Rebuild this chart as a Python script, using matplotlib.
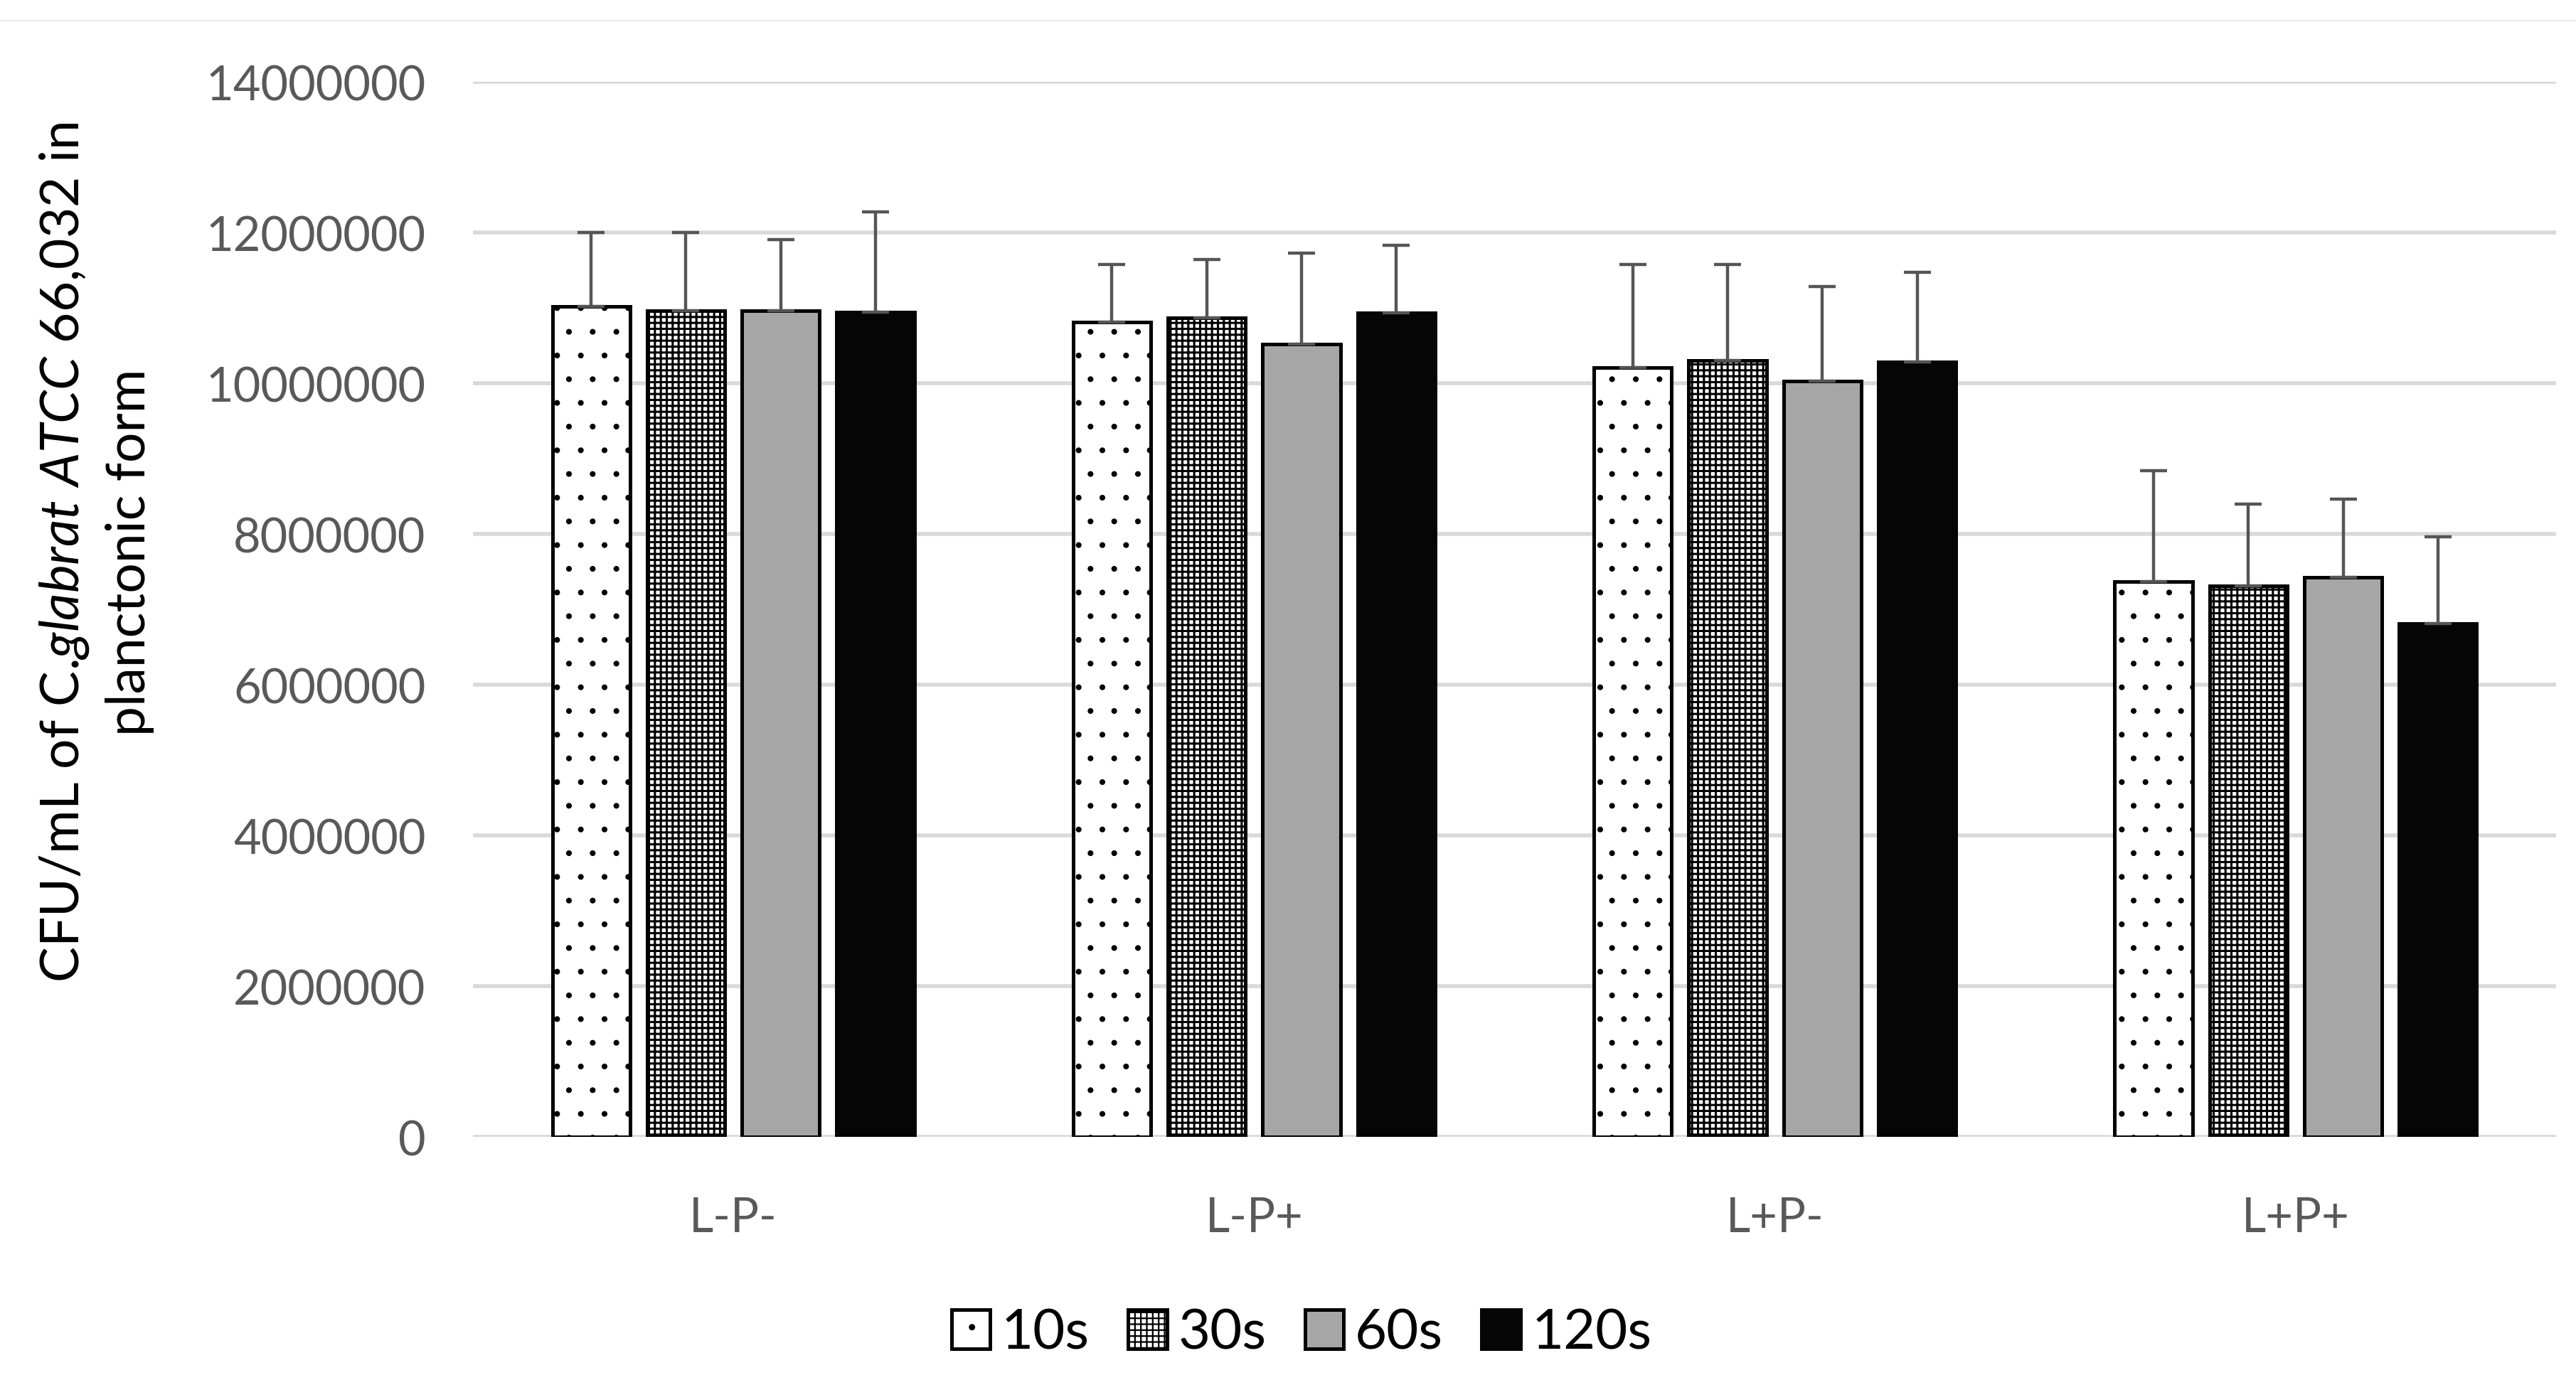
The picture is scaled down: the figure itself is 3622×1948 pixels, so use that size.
import matplotlib
matplotlib.use("Agg")
import matplotlib.pyplot as plt
import numpy as np
from matplotlib.lines import Line2D

# data
groups = ["L-P-", "L-P+", "L+P-", "L+P+"]
series = ["10s", "30s", "60s", "120s"]
means_10s = [11020000, 10810000, 10210000, 7370000]
means_30s = [10960000, 10870000, 10300000, 7310000]
means_60s = [10960000, 10520000, 10030000, 7420000]
means_120s = [10940000, 10930000, 10280000, 6810000]
err_10s = [980000, 770000, 1370000, 1470000]
err_30s = [1040000, 770000, 1280000, 1090000]
err_60s = [950000, 1210000, 1250000, 1040000]
err_120s = [1330000, 900000, 1190000, 1150000]
y_ticks = [0, 2000000, 4000000, 6000000, 8000000, 10000000, 12000000, 14000000]

means = [means_10s, means_30s, means_60s, means_120s]
errs = [err_10s, err_30s, err_60s, err_120s]

plt.rcParams['font.family'] = 'Lato'
plt.rcParams['mathtext.fontset'] = 'custom'
plt.rcParams['mathtext.rm'] = 'Lato'
plt.rcParams['mathtext.it'] = 'Lato:italic'
plt.rcParams['hatch.linewidth'] = 0.6

W, H, DPI = 3623, 1949, 200
fig = plt.figure(figsize=(W / DPI, H / DPI), dpi=DPI)
ax = fig.add_axes([665 / W, 1 - 1600 / H, (3594 - 665) / W, (1600 - 116) / H])

# bar styles per series
faces = ['white', 'white', '#A6A6A6', '#050505']
hatches = ['.', '++++', None, None]
hatch_lw = [0.5, 1.1, 0.6, 0.6]
edges = ['black', 'black', 'black', '#050505']

x = np.arange(len(groups))
width = 0.149
step = 0.182
for i, name in enumerate(series):
    pos = x + (i - 1.5) * step
    bars = ax.bar(pos, means[i], width, color=faces[i], edgecolor=edges[i],
                  hatch=hatches[i], linewidth=1.8, label=name, zorder=2)
    for b in bars:
        if hasattr(b, 'set_hatch_linewidth'):
            b.set_hatch_linewidth(hatch_lw[i])
    ax.errorbar(pos, means[i], yerr=[np.zeros(len(groups)), errs[i]],
                fmt='none', ecolor='#555555', elinewidth=1.6,
                capsize=6.7, capthick=1.6, zorder=3)

ax.set_xlim(-0.5, 3.5)
ax.set_ylim(0, 14000000)
ax.set_yticks(y_ticks)
ax.set_yticklabels([str(v) for v in y_ticks])
ax.set_xticks(x)
ax.set_xticklabels(groups)

ax.grid(axis='y', color='#D9D9D9', linewidth=2)
ax.set_axisbelow(True)
for s in ax.spines.values():
    s.set_visible(False)
ax.tick_params(axis='both', length=0, labelsize=24, labelcolor='#595959')
ax.tick_params(axis='y', pad=24)
ax.tick_params(axis='x', pad=30)

ax.set_ylabel("CFU/mL of C.$\\mathit{glabrat\\ ATCC\\ 66{,}032}$ in\nplanctonic form",
              fontsize=27, color='black', linespacing=1.35)
ax.yaxis.set_label_coords(-0.153, 0.555)

leg = fig.legend(loc='center', bbox_to_anchor=(1830 / W, 1 - 1876 / H), ncol=4,
                 frameon=False, fontsize=28, handlelength=0.7, handleheight=0.7,
                 handletextpad=0.2, columnspacing=0.7)
for p in leg.get_patches():
    if hasattr(p, 'set_hatch_linewidth'):
        p.set_hatch_linewidth(0.8)

# thin border line at the top of the chart area
fig.add_artist(Line2D([0, 1], [1 - 30 / H, 1 - 30 / H], transform=fig.transFigure,
                      color='#EBEBEB', linewidth=0.8))

fig.savefig("out.png", dpi=DPI)
